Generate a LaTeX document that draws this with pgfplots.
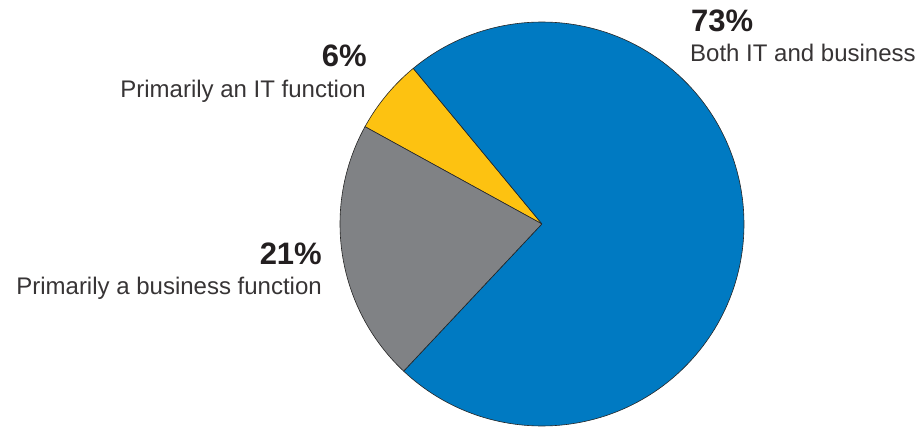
\documentclass[border=0pt]{standalone}
\usepackage{fontspec}
\setmainfont{Liberation Sans}
\usepackage{pgfplots}
\pgfplotsset{compat=1.18}

\definecolor{pieblue}{RGB}{0,122,194}
\definecolor{piegray}{RGB}{128,130,133}
\definecolor{pieyellow}{RGB}{253,194,17}
\definecolor{txt}{RGB}{35,31,32}
\definecolor{txtlight}{RGB}{55,52,53}

% #1 = share already used (percent), #2 = share of this slice (percent), #3 = colour
\newcommand{\slice}[3]{%
  \filldraw[fill=#3, draw=black!85, line width=0.6pt, line join=round]
    (axis cs:542,206) -- ++({129.6+3.6*#1}:202pt)
    arc[start angle={129.6+3.6*#1}, delta angle={3.6*#2}, radius=202pt] -- cycle;}

\begin{document}
\begin{tikzpicture}
\begin{axis}[
    x=1pt, y=1pt,
    xmin=0, xmax=921, ymin=0, ymax=430,
    hide axis,
    clip=false,
]
\path (axis cs:0,0) rectangle (axis cs:921,430);

% shares: IT 6, business 21, both 73
\slice{0}{6}{pieyellow}
\slice{6}{21}{piegray}
\slice{27}{73}{pieblue}

\begin{scope}[every node/.style={inner sep=0pt}]
\node[anchor=base west, text=txt, font=\fontsize{31}{34}\selectfont\bfseries] at (axis cs:691,398) {73\%};
\node[anchor=base west, text=txtlight, font=\fontsize{24}{28}\selectfont] at (axis cs:690,368) {Both IT and business};
\node[anchor=base east, text=txt, font=\fontsize{31}{34}\selectfont\bfseries] at (axis cs:367,363) {6\%};
\node[anchor=base east, text=txtlight, font=\fontsize{24}{28}\selectfont] at (axis cs:366,332) {Primarily an IT function};
\node[anchor=base east, text=txt, font=\fontsize{31}{34}\selectfont\bfseries] at (axis cs:322,165) {21\%};
\node[anchor=base east, text=txtlight, font=\fontsize{24}{28}\selectfont] at (axis cs:322,135) {Primarily a business function};
\end{scope}
\end{axis}
\end{tikzpicture}
\end{document}
